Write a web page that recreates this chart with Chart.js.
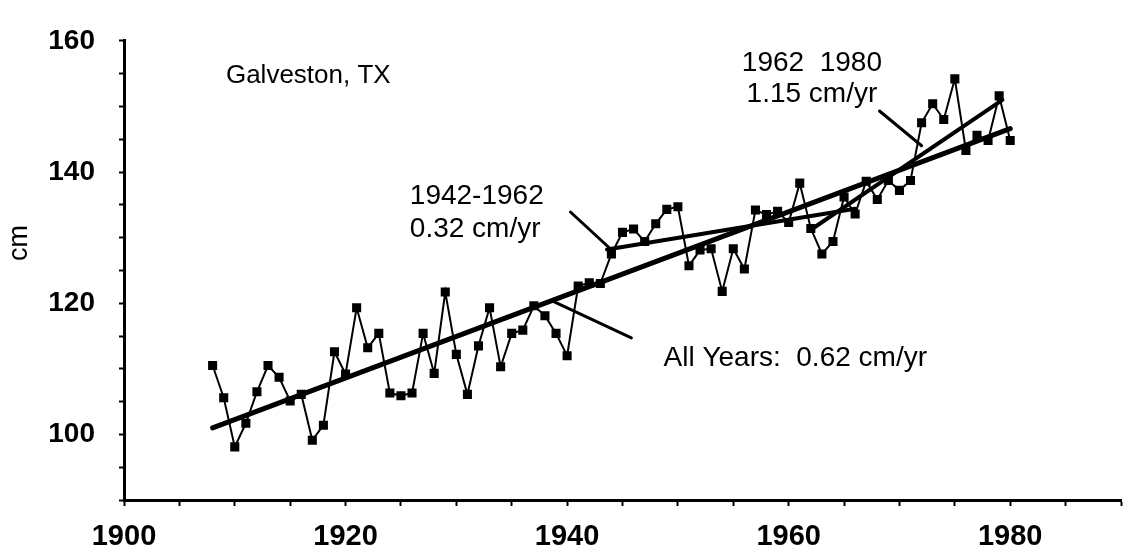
<!DOCTYPE html>
<html>
<head>
<meta charset="utf-8">
<script src="https://cdn.jsdelivr.net/npm/chart.js@4.4.1/dist/chart.umd.min.js"></script>
<style>
  html, body { margin: 0; padding: 0; background: #fff; }
  #wrap { width: 1135px; height: 558px; }
</style>
</head>
<body>
<div id="wrap"><canvas id="chart" width="1135" height="558"></canvas></div>
<script>
// Galveston, TX annual mean sea level (cm)
const years = [
  1908, 1909, 1910, 1911, 1912, 1913, 1914, 1915, 1916, 1917,
  1918, 1919, 1920, 1921, 1922, 1923, 1924, 1925, 1926, 1927,
  1928, 1929, 1930, 1931, 1932, 1933, 1934, 1935, 1936, 1937,
  1938, 1939, 1940, 1941, 1942, 1943, 1944, 1945, 1946, 1947,
  1948, 1949, 1950, 1951, 1952, 1953, 1954, 1955, 1956, 1957,
  1958, 1959, 1960, 1961, 1962, 1963, 1964, 1965, 1966, 1967,
  1968, 1969, 1970, 1971, 1972, 1973, 1974, 1975, 1976, 1977,
  1978, 1979, 1980
];
const levelCm = [
  110.5, 105.6, 98.1, 101.7, 106.5, 110.5, 108.7, 105.1, 106.1, 99.1,
  101.4, 112.6, 109.2, 119.3, 113.2, 115.4, 106.3, 105.9, 106.3, 115.4,
  109.3, 121.7, 112.2, 106.1, 113.5, 119.3, 110.3, 115.4, 115.9, 119.6,
  118.1, 115.4, 112.0, 122.6, 123.1, 123.0, 127.5, 130.8, 131.3, 129.4,
  132.1, 134.3, 134.7, 125.7, 128.1, 128.3, 121.8, 128.3, 125.2, 134.2,
  133.5, 134.0, 132.3, 138.3, 131.4, 127.5, 129.4, 136.2, 133.6, 138.6,
  135.8, 138.7, 137.2, 138.7, 147.5, 150.4, 148.0, 154.2, 143.3, 145.6,
  144.8, 151.6, 144.8
];

// fitted trend lines: [start year, end year], [start cm, end cm]
const allYearsX = [1908, 1980];
const allYearsY = [101.0, 146.6];
const fit4262X = [1943.6, 1966.0];
const fit4262Y = [128.2, 134.4];
const fit6280X = [1962.0, 1979.3];
const fit6280Y = [131.2, 151.0];

// leader lines from the labels to the fits
const leader4262X = [1940.3, 1943.9];
const leader4262Y = [133.9, 128.3];
const leaderAllX = [1938.7, 1945.8];
const leaderAllY = [120.3, 114.7];
const leader6280X = [1968.2, 1972.0];
const leader6280Y = [149.3, 144.0];

const xTickLabels = [1900, 1920, 1940, 1960, 1980];
const yTickLabels = [100, 120, 140, 160];

const FONT = 'Arial, "Liberation Sans", Helvetica, sans-serif';

function pairs(xs, ys) {
  return xs.map((x, i) => ({ x: x, y: ys[i] }));
}

function lineSet(xs, ys, width) {
  return {
    data: pairs(xs, ys),
    borderColor: '#000',
    borderWidth: width,
    pointRadius: 0,
    borderCapStyle: 'round',
    tension: 0
  };
}

// text written on the plot, placed in data units
const notes = [
  { text: 'Galveston, TX', year: 1909.2, cm: 154.7, align: 'left', size: 26 },
  { text: '1942-1962', year: 1925.8, cm: 136.3, align: 'left', size: 28 },
  { text: '0.32 cm/yr', year: 1925.8, cm: 131.2, align: 'left', size: 28 },
  { text: '1962  1980', year: 1962.1, cm: 156.6, align: 'center', size: 28 },
  { text: '1.15 cm/yr', year: 1962.1, cm: 151.9, align: 'center', size: 28 },
  { text: 'All Years:  0.62 cm/yr', year: 1948.7, cm: 111.6, align: 'left', size: 28 }
];

const notesPlugin = {
  id: 'notes',
  afterDraw(chart) {
    const ctx = chart.ctx;
    const xs = chart.scales.x, ys = chart.scales.y;
    ctx.save();
    ctx.fillStyle = '#000';
    ctx.textBaseline = 'middle';
    notes.forEach(n => {
      ctx.font = n.size + 'px ' + FONT;
      ctx.textAlign = n.align;
      ctx.fillText(n.text, xs.getPixelForValue(n.year), ys.getPixelForValue(n.cm));
    });
    // axis title
    ctx.translate(20, 243);
    ctx.rotate(-Math.PI / 2);
    ctx.textAlign = 'center';
    ctx.font = '27px ' + FONT;
    ctx.fillText('cm', 0, 0);
    ctx.restore();
  }
};

new Chart(document.getElementById('chart'), {
  type: 'line',
  data: {
    datasets: [
      {
        data: pairs(years, levelCm),
        borderColor: '#000',
        backgroundColor: '#000',
        borderWidth: 2,
        pointStyle: 'rect',
        pointRadius: 5,
        tension: 0
      },
      lineSet(allYearsX, allYearsY, 5),
      lineSet(fit4262X, fit4262Y, 4),
      lineSet(fit6280X, fit6280Y, 4),
      lineSet(leader4262X, leader4262Y, 3),
      lineSet(leaderAllX, leaderAllY, 3),
      lineSet(leader6280X, leader6280Y, 3)
    ]
  },
  options: {
    responsive: false,
    animation: false,
    devicePixelRatio: 1,
    layout: { padding: { top: 21, right: 2, left: 0, bottom: 0 } },
    plugins: { legend: { display: false }, tooltip: { enabled: false } },
    scales: {
      x: {
        type: 'linear',
        min: 1900,
        max: 1990,
        afterFit: s => { s.height = 58; },
        border: { display: true, color: '#000', width: 3 },
        grid: { drawOnChartArea: false, drawTicks: true, tickLength: 6, tickWidth: 2, color: '#000' },
        ticks: {
          stepSize: 5,
          autoSkip: false,
          maxRotation: 0,
          padding: 14,
          color: '#000',
          font: { family: FONT, size: 29, weight: 'bold' },
          callback: v => xTickLabels.includes(v) ? String(v) : ''
        }
      },
      y: {
        min: 90,
        max: 160,
        afterFit: s => { s.width = 124; },
        border: { display: true, color: '#000', width: 3 },
        grid: { drawOnChartArea: false, drawTicks: true, tickLength: 5, tickWidth: 2, color: '#000' },
        ticks: {
          stepSize: 5,
          autoSkip: false,
          padding: 24,
          color: '#000',
          font: { family: FONT, size: 28, weight: 'bold' },
          callback: v => yTickLabels.includes(v) ? String(v) : ''
        }
      }
    }
  },
  plugins: [notesPlugin]
});
</script>
</body>
</html>
